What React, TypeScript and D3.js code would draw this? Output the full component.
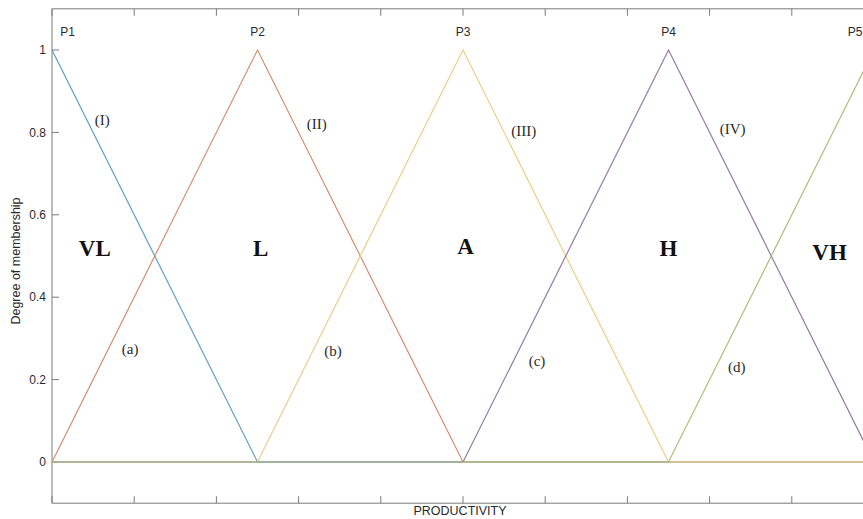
import React from "react";
import * as d3 from "d3";

// ---- data ----
const breakpoints = [0, 2.5, 5, 7.5, 10];
const seriesNames = ["VL", "L", "A", "H", "VH"];
const vlValues = [1, 0, 0, 0, 0];
const lValues = [0, 1, 0, 0, 0];
const aValues = [0, 0, 1, 0, 0];
const hValues = [0, 0, 0, 1, 0];
const vhValues = [0, 0, 0, 0, 1];
const seriesColors = ["#5f9ec4", "#d68d6e", "#e8cf88", "#9479a4", "#a6c07c"];

const xTicks = [0, 1, 2, 3, 4, 5, 6, 7, 8, 9, 10];
const yTicks = [0, 0.2, 0.4, 0.6, 0.8, 1];
const yTickLabels = ["0", "0.2", "0.4", "0.6", "0.8", "1"];

const pointLabels = ["P1", "P2", "P3", "P4", "P5"];
const pointLabelX = [0.19, 2.5, 5, 7.5, 9.77];

const catLabelX = [0.52, 2.54, 5.03, 7.5, 9.46];
const catLabelY = [0.5, 0.5, 0.505, 0.5, 0.49];

const romanLabels = ["(I)", "(II)", "(III)", "(IV)"];
const romanX = [0.61, 3.22, 5.74, 8.28];
const romanY = [0.83, 0.82, 0.805, 0.81];

const letterLabels = ["(a)", "(b)", "(c)", "(d)"];
const letterX = [0.95, 3.42, 5.9, 8.33];
const letterY = [0.275, 0.27, 0.245, 0.23];

const allValues = [vlValues, lValues, aValues, hValues, vhValues];

export default function App() {
  const W = 863;
  const H = 519;
  const x = d3.scaleLinear().domain([0, 10]).range([52, 874]);
  const y = d3.scaleLinear().domain([0, 1]).range([462, 50]);
  const yTop = y(1.1);
  const yBot = y(-0.1);
  const x0 = x(0);
  const x1 = x(10);

  const line = d3
    .line<[number, number]>()
    .x((d) => x(d[0]))
    .y((d) => y(d[1]));

  const sans = "'Liberation Sans', Arial, sans-serif";
  const serif = "'Liberation Serif', 'Times New Roman', serif";
  const axisColor = "#7a7a7a";
  const textColor = "#2a2a2a";

  return (
    <div style={{ position: "absolute", left: 0, top: 0 }}>
      <svg width={W} height={H} style={{ display: "block", background: "#fff" }}>
        <rect x={0} y={0} width={W} height={H} fill="#fff" />
        {/* axes box */}
        <line x1={x0} x2={x1} y1={yTop} y2={yTop} stroke={axisColor} strokeWidth={1} />
        <line x1={x0} x2={x1} y1={yBot} y2={yBot} stroke={axisColor} strokeWidth={1} />
        <line x1={x0} x2={x0} y1={yTop} y2={yBot} stroke={axisColor} strokeWidth={1} />
        <line x1={x1} x2={x1} y1={yTop} y2={yBot} stroke={axisColor} strokeWidth={1} />
        {/* x ticks (inward, top and bottom) */}
        {xTicks.map((t) => (
          <g key={"xt" + t}>
            <line x1={x(t)} x2={x(t)} y1={yBot} y2={yBot - 7} stroke={axisColor} strokeWidth={1} />
            <line x1={x(t)} x2={x(t)} y1={yTop} y2={yTop + 7} stroke={axisColor} strokeWidth={1} />
          </g>
        ))}
        {/* y ticks */}
        {yTicks.map((t, i) => (
          <g key={"yt" + t}>
            <line x1={x0} x2={x0 + 7} y1={y(t)} y2={y(t)} stroke={axisColor} strokeWidth={1} />
            <text
              x={x0 - 6}
              y={y(t)}
              dy="0.35em"
              textAnchor="end"
              fontFamily={sans}
              fontSize={12}
              fill={textColor}
            >
              {yTickLabels[i]}
            </text>
          </g>
        ))}
        {/* membership functions */}
        {allValues.map((vals, i) => {
          const pts = breakpoints.map((b, j) => [b, vals[j]] as [number, number]);
          return (
            <path
              key={seriesNames[i]}
              d={line(pts) || ""}
              fill="none"
              stroke={seriesColors[i]}
              strokeWidth={1.2}
            />
          );
        })}
        {/* P labels */}
        {pointLabels.map((p, i) => (
          <text
            key={p}
            x={x(pointLabelX[i])}
            y={y(1.045)}
            dy="0.35em"
            textAnchor="middle"
            fontFamily={sans}
            fontSize={12}
            fill={textColor}
          >
            {p}
          </text>
        ))}
        {/* category labels */}
        {seriesNames.map((n, i) => (
          <text
            key={"c" + n}
            x={x(catLabelX[i])}
            y={y(catLabelY[i])}
            textAnchor="middle"
            fontFamily={serif}
            fontWeight="bold"
            fontSize={23}
            fill="#111"
          >
            {n}
          </text>
        ))}
        {romanLabels.map((r, i) => (
          <text
            key={r}
            x={x(romanX[i])}
            y={y(romanY[i])}
            dy="0.35em"
            textAnchor="middle"
            fontFamily={serif}
            fontSize={15}
            fill={textColor}
          >
            {r}
          </text>
        ))}
        {letterLabels.map((r, i) => (
          <text
            key={r}
            x={x(letterX[i])}
            y={y(letterY[i])}
            dy="0.35em"
            textAnchor="middle"
            fontFamily={serif}
            fontSize={15}
            fill={textColor}
          >
            {r}
          </text>
        ))}
        {/* axis labels */}
        <text
          transform={`translate(16, ${y(0.5) + 5}) rotate(-90)`}
          dy="0.35em"
          textAnchor="middle"
          fontFamily={sans}
          fontSize={12.5}
          fill={textColor}
        >
          Degree of membership
        </text>
        <text
          x={460}
          y={515}
          textAnchor="middle"
          fontFamily={sans}
          fontSize={12.5}
          fill={textColor}
        >
          PRODUCTIVITY
        </text>
      </svg>
    </div>
  );
}
